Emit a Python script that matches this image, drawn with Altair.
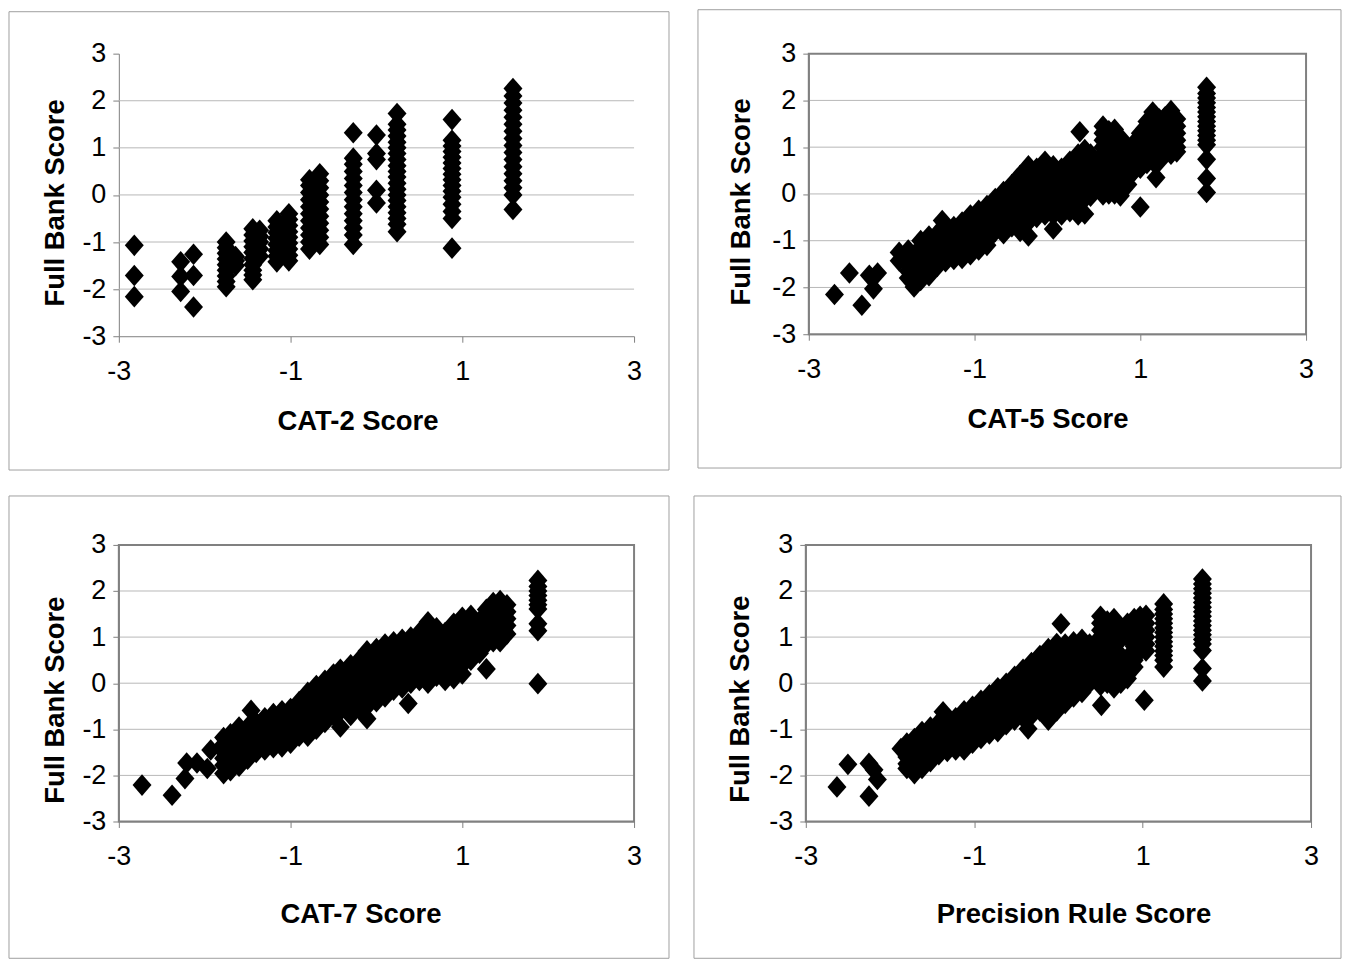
import altair as alt
import pandas as pd

FONT = "Liberation Sans"
DIAMOND = "M0,-1L0.875,0L0,1L-0.875,0Z"
GRID_VALUES = [-2, -1, 0, 1, 2]
Y_TICKS = [-3, -2, -1, 0, 1, 2, 3]
X_TICKS = [-3, -1, 1, 3]

# ---- data: (CAT score, [full bank scores]) ----
CAT2 = [
    (-2.82, [-1.07, -1.71, -2.16]),
    (-2.28, [-1.42, -1.73, -2.05]),
    (-2.13, [-1.26, -1.71, -2.38]),
    (-1.75, [-1.0, -1.12, -1.24, -1.36, -1.48, -1.6, -1.72, -1.84, -1.95]),
    (-1.64, [-1.31, -1.4, -1.5]),
    (-1.44, [-0.72, -0.85, -0.98, -1.1, -1.22, -1.35, -1.48, -1.6, -1.7, -1.8]),
    (-1.36, [-0.75, -0.88, -1.0, -1.15, -1.3]),
    (-1.16, [-0.55, -0.68, -0.8, -0.92, -1.05, -1.18, -1.3, -1.42]),
    (-1.02, [-0.4, -0.52, -0.65, -0.78, -0.9, -1.02, -1.15, -1.28, -1.4]),
    (-0.78, [0.32, 0.2, 0.05, -0.1, -0.25, -0.4, -0.55, -0.7, -0.85, -1.0, -1.15]),
    (-0.66, [0.45, 0.3, 0.15, 0.0, -0.15, -0.3, -0.45, -0.6, -0.75, -0.9, -1.05]),
    (-0.27, [1.32, 0.78, 0.65, 0.5, 0.35, 0.2, 0.05, -0.1, -0.25, -0.4, -0.55, -0.7, -0.85, -1.05]),
    (0.0, [1.27, 0.88, 0.75, 0.1, -0.17]),
    (0.24, [1.73, 1.5, 1.38, 1.25, 1.12, 1.0, 0.88, 0.75, 0.62, 0.5, 0.38, 0.25, 0.12, 0.0,
            -0.12, -0.25, -0.38, -0.5, -0.62, -0.78]),
    (0.88, [1.6, 1.16, 1.04, 0.92, 0.8, 0.68, 0.56, 0.44, 0.32, 0.2, 0.08, -0.05, -0.2, -0.35, -0.5, -1.13]),
    (1.59, [2.26, 2.1, 1.95, 1.8, 1.65, 1.5, 1.35, 1.2, 1.05, 0.9, 0.75, 0.6, 0.45, 0.3, 0.15, 0.0, -0.31]),
]

CAT5 = [
    (-2.69, [-2.15]), (-2.51, [-1.69]), (-2.36, [-2.38]), (-2.27, [-1.74]),
    (-2.17, [-1.69]), (-2.22, [-2.03]), (-1.91, [-1.25, -1.43]), (-1.39, [-0.57]),
    (-1.8, [-1.2, -1.35, -1.5, -1.65, -1.8]),
    (-1.73, [-1.3, -1.45, -1.6, -1.75, -1.9, -1.99]),
    (-1.65, [-1.0, -1.15, -1.3, -1.45, -1.6, -1.75, -1.85]),
    (-1.55, [-0.9, -1.05, -1.2, -1.35, -1.5, -1.65, -1.75]),
    (-1.45, [-0.85, -1.0, -1.15, -1.3, -1.45, -1.55]),
    (-1.35, [-0.8, -0.95, -1.1, -1.25, -1.4, -1.45]),
    (-1.25, [-0.7, -0.85, -1.0, -1.15, -1.3, -1.4]),
    (-1.15, [-0.6, -0.75, -0.9, -1.05, -1.2, -1.38]),
    (-1.05, [-0.45, -0.6, -0.75, -0.9, -1.05, -1.2, -1.3]),
    (-0.95, [-0.35, -0.5, -0.65, -0.8, -0.95, -1.1, -1.2]),
    (-0.85, [-0.25, -0.4, -0.55, -0.7, -0.85, -1.0, -1.1]),
    (-0.75, [-0.1, -0.25, -0.4, -0.55, -0.7, -0.8]),
    (-0.65, [0.05, -0.1, -0.25, -0.4, -0.55, -0.7, -0.85]),
    (-0.55, [0.2, 0.05, -0.1, -0.25, -0.4, -0.55, -0.7]),
    (-0.45, [0.4, 0.25, 0.1, -0.05, -0.2, -0.35, -0.5, -0.65, -0.8]),
    (-0.35, [0.6, 0.45, 0.3, 0.15, 0.0, -0.15, -0.3, -0.45, -0.6, -0.9]),
    (-0.25, [0.55, 0.4, 0.25, 0.1, -0.05, -0.2, -0.35, -0.5]),
    (-0.15, [0.7, 0.55, 0.4, 0.25, 0.1, -0.05, -0.2, -0.35, -0.45]),
    (-0.05, [0.6, 0.45, 0.3, 0.15, 0.0, -0.15, -0.3, -0.45, -0.75]),
    (0.05, [0.55, 0.4, 0.25, 0.1, -0.05, -0.2, -0.35, -0.45]),
    (0.15, [0.7, 0.55, 0.4, 0.25, 0.1, -0.05, -0.2, -0.38]),
    (0.25, [0.85, 0.7, 0.55, 0.4, 0.25, 0.1, -0.05, -0.2, -0.45]),
    (0.27, [1.33]),
    (0.33, [0.95, 0.8, 0.65, 0.5, 0.35, 0.2, 0.05, -0.1, -0.43]),
    (0.4, [0.85, 0.7, 0.55, 0.4, 0.25, 0.1, -0.05]),
    (0.55, [1.45, 1.3, 1.15, 1.0, 0.85, 0.7, 0.55, 0.4, 0.25, 0.1, -0.02]),
    (0.62, [1.35, 1.2, 1.05, 0.9, 0.75, 0.6, 0.45, 0.3, 0.15, 0.0]),
    (0.69, [1.38, 1.2, 1.05, 0.9, 0.75, 0.6, 0.45, 0.3, 0.15, 0.0]),
    (0.76, [1.2, 1.0, 0.8, 0.3, 0.1, -0.04]),
    (0.85, [0.95, 0.8, 0.65, 0.5, 0.35, 0.2]),
    (0.93, [1.1, 0.95, 0.8, 0.65, 0.5]),
    (1.0, [1.3, 1.15, 1.0, 0.85, 0.7, 0.55, -0.28]),
    (1.08, [1.55, 1.4, 1.25, 1.1, 0.95, 0.8, 0.65]),
    (1.15, [1.75, 1.6, 1.45, 1.3, 1.15, 1.0, 0.85, 0.7]),
    (1.19, [0.35]),
    (1.23, [1.6, 1.45, 1.3, 1.15, 1.0, 0.85, 0.7]),
    (1.3, [1.65, 1.5, 1.35, 1.2, 1.05, 0.9]),
    (1.37, [1.78, 1.6, 1.45, 1.3, 1.15, 1.0, 0.85]),
    (1.44, [1.6, 1.45, 1.3, 1.15, 1.0, 0.9]),
    (1.8, [2.28, 2.15, 2.05, 1.95, 1.85, 1.75, 1.65, 1.55, 1.45, 1.35, 1.25, 1.15, 1.05, 0.74, 0.33, 0.03]),
]

CAT7 = [
    (-2.73, [-2.21]), (-2.38, [-2.43]), (-2.23, [-2.07]), (-2.21, [-1.73]),
    (-2.09, [-1.73]), (-1.97, [-1.85]), (-1.93, [-1.45]), (-1.46, [-0.59]),
    (-1.78, [-1.18, -1.33, -1.48, -1.63, -1.78, -1.96]),
    (-1.7, [-1.1, -1.25, -1.4, -1.55, -1.7, -1.9]),
    (-1.6, [-0.95, -1.1, -1.25, -1.4, -1.55, -1.7, -1.8]),
    (-1.5, [-0.95, -1.1, -1.25, -1.4, -1.55, -1.65]),
    (-1.4, [-0.85, -1.0, -1.15, -1.3, -1.5]),
    (-1.3, [-0.75, -0.9, -1.05, -1.2, -1.35, -1.45]),
    (-1.2, [-0.66, -0.8, -0.95, -1.1, -1.25, -1.4]),
    (-1.1, [-0.6, -0.75, -0.9, -1.05, -1.2, -1.38]),
    (-1.0, [-0.55, -0.7, -0.85, -1.0, -1.15, -1.3]),
    (-0.9, [-0.4, -0.55, -0.7, -0.85, -1.0, -1.15]),
    (-0.8, [-0.2, -0.35, -0.5, -0.65, -0.8, -0.95, -1.15]),
    (-0.7, [-0.05, -0.2, -0.35, -0.5, -0.65, -0.8, -1.0]),
    (-0.6, [0.06, -0.1, -0.25, -0.4, -0.55, -0.7, -0.85]),
    (-0.5, [0.2, 0.05, -0.1, -0.25, -0.4, -0.55, -0.7]),
    (-0.42, [0.3, 0.15, 0.0, -0.15, -0.3, -0.45, -0.6, -0.95]),
    (-0.3, [0.4, 0.25, 0.1, -0.05, -0.2, -0.35, -0.5, -0.7]),
    (-0.2, [0.5, 0.35, 0.2, 0.05, -0.1, -0.25, -0.4, -0.55]),
    (-0.11, [0.7, 0.55, 0.4, 0.25, 0.1, -0.05, -0.2, -0.35, -0.5, -0.77]),
    (0.0, [0.75, 0.6, 0.45, 0.3, 0.15, 0.0, -0.15, -0.3, -0.4]),
    (0.1, [0.85, 0.7, 0.55, 0.4, 0.25, 0.1, -0.05, -0.2, -0.3]),
    (0.2, [0.9, 0.75, 0.6, 0.45, 0.3, 0.15, 0.0, -0.15]),
    (0.3, [0.95, 0.8, 0.65, 0.5, 0.35, 0.2, 0.05, -0.1]),
    (0.37, [-0.44]),
    (0.4, [1.0, 0.85, 0.7, 0.55, 0.4, 0.25, 0.1, 0.0]),
    (0.5, [1.1, 0.95, 0.8, 0.65, 0.5, 0.35, 0.2, 0.06]),
    (0.6, [1.33, 1.15, 1.0, 0.85, 0.7, 0.55, 0.4, 0.25, 0.1, 0.0]),
    (0.7, [1.2, 1.05, 0.9, 0.75, 0.6, 0.45, 0.3, 0.15]),
    (0.8, [1.1, 0.95, 0.8, 0.65, 0.5, 0.35, 0.2, 0.06]),
    (0.9, [1.3, 1.15, 1.0, 0.85, 0.7, 0.55, 0.4, 0.25, 0.1]),
    (1.0, [1.43, 1.3, 1.15, 1.0, 0.85, 0.7, 0.55, 0.4, 0.2]),
    (1.1, [1.47, 1.3, 1.15, 1.0, 0.85, 0.7, 0.5]),
    (1.2, [1.35, 1.2, 1.05, 0.9, 0.75, 0.65]),
    (1.28, [1.6, 1.45, 1.3, 1.15, 1.0, 0.85, 0.31]),
    (1.36, [1.75, 1.6, 1.45, 1.3, 1.15, 1.0, 0.9]),
    (1.44, [1.79, 1.65, 1.5, 1.35, 1.2, 1.05, 0.9]),
    (1.52, [1.7, 1.55, 1.4, 1.25, 1.07]),
    (1.88, [2.23, 2.1, 2.0, 1.9, 1.8, 1.7, 1.61, 1.29, 1.14, -0.01]),
]

PREC = [
    (-2.63, [-2.25]), (-2.50, [-1.76]), (-2.25, [-1.74, -2.45]), (-2.19, [-1.88]),
    (-2.15, [-2.09]), (-1.37, [-0.62]), (-0.36, [-0.99]), (0.03, [1.29]),
    (0.51, [-0.48]), (1.02, [-0.37]),
    (-1.87, [-1.42]),
    (-1.8, [-1.3, -1.45, -1.6, -1.75, -1.85]),
    (-1.71, [-1.2, -1.35, -1.5, -1.65, -1.8, -1.96]),
    (-1.62, [-1.05, -1.2, -1.35, -1.5, -1.65, -1.85]),
    (-1.52, [-0.95, -1.1, -1.25, -1.4, -1.55, -1.7]),
    (-1.42, [-0.85, -1.0, -1.15, -1.3, -1.45, -1.55]),
    (-1.32, [-0.8, -0.95, -1.1, -1.25, -1.4, -1.48]),
    (-1.22, [-0.75, -0.9, -1.05, -1.2, -1.35, -1.45]),
    (-1.12, [-0.6, -0.75, -0.9, -1.05, -1.2, -1.35, -1.45]),
    (-1.02, [-0.5, -0.65, -0.8, -0.95, -1.1, -1.3]),
    (-0.92, [-0.37, -0.5, -0.65, -0.8, -0.95, -1.1, -1.2]),
    (-0.82, [-0.25, -0.4, -0.55, -0.7, -0.85, -1.0, -1.1]),
    (-0.72, [-0.1, -0.25, -0.4, -0.55, -0.7, -0.85, -1.05]),
    (-0.62, [0.0, -0.15, -0.3, -0.45, -0.6, -0.75, -0.9]),
    (-0.52, [0.15, 0.0, -0.15, -0.3, -0.45, -0.6, -0.8]),
    (-0.42, [0.3, 0.15, 0.0, -0.15, -0.3, -0.45, -0.6, -0.75]),
    (-0.32, [0.45, 0.3, 0.15, 0.0, -0.15, -0.3, -0.45, -0.7]),
    (-0.22, [0.6, 0.45, 0.3, 0.15, 0.0, -0.15, -0.3, -0.45, -0.6]),
    (-0.12, [0.75, 0.6, 0.45, 0.3, 0.15, 0.0, -0.15, -0.3, -0.45, -0.6, -0.8]),
    (-0.02, [0.86, 0.7, 0.55, 0.4, 0.25, 0.1, -0.05, -0.2, -0.35, -0.5, -0.6]),
    (0.08, [0.85, 0.7, 0.55, 0.4, 0.25, 0.1, -0.05, -0.2, -0.35, -0.44]),
    (0.18, [0.9, 0.75, 0.6, 0.45, 0.3, 0.15, 0.0, -0.15, -0.3]),
    (0.28, [0.95, 0.8, 0.65, 0.5, 0.35, 0.2, 0.05, -0.1, -0.2]),
    (0.37, [0.85, 0.7, 0.55, 0.4, 0.25, 0.1, 0.0]),
    (0.5, [1.45, 1.3, 1.15, 1.0, 0.85, 0.7, 0.55, 0.4, 0.25, 0.1, -0.05]),
    (0.58, [1.35, 1.2, 1.05, 0.9, 0.75, 0.6, 0.45, 0.3, 0.15, 0.0]),
    (0.66, [1.4, 1.25, 1.1, 0.95, 0.8, 0.65, 0.5, 0.35, 0.2, 0.05, -0.1]),
    (0.74, [1.1, 0.95, 0.6, 0.45, 0.3, 0.15, 0.0]),
    (0.82, [1.3, 1.15, 1.0, 0.55, 0.4, 0.25, 0.1]),
    (0.9, [1.4, 1.25, 1.1, 0.95, 0.8, 0.65, 0.5, 0.35]),
    (0.97, [1.45, 1.3, 1.15, 1.0, 0.85, 0.7]),
    (1.04, [1.47, 1.3, 1.15, 1.0, 0.85, 0.7]),
    (1.25, [1.72, 1.6, 1.5, 1.4, 1.3, 1.2, 1.1, 1.0, 0.9, 0.8, 0.7, 0.6, 0.5, 0.35]),
    (1.71, [2.26, 2.15, 2.05, 1.95, 1.85, 1.75, 1.65, 1.55, 1.45, 1.35, 1.25, 1.15, 1.05,
            0.95, 0.85, 0.71, 0.32, 0.05]),
]

GRIDC = "#b8b8b8"
AXC = "#808080"


def panel(cols, xtitle, w, h, frame, border, xt, yt):
    df = pd.DataFrame([{"x": x, "y": y} for x, ys in cols for y in ys])
    sx = alt.Scale(domain=[-3, 3], nice=False, zero=False)
    sy = alt.Scale(domain=[-3, 3], nice=False, zero=False)
    Y = alt.Y(
        "y:Q", scale=sy,
        axis=alt.Axis(
            values=Y_TICKS, grid=False, domainColor=AXC, tickColor=AXC, tickSize=6,
            labelPadding=7, labelFont=FONT, labelFontSize=27, labelColor="black",
            labelExpr="'' + datum.value", labelOverlap=False,
            title="Full Bank Score", titleFont=FONT, titleFontSize=27.5,
            titleFontWeight="bold", titleColor="black", titleAngle=270,
            titleX=yt[0], titleY=yt[1], titleBaseline="middle", titleAlign="center",
        ),
    )
    X = alt.X(
        "x:Q", scale=sx,
        axis=alt.Axis(
            values=X_TICKS, grid=False, domainColor=AXC, tickColor=AXC, tickSize=6,
            labelPadding=16, labelFont=FONT, labelFontSize=27, labelColor="black",
            labelExpr="'' + datum.value", labelFlush=False, labelOverlap=False,
            title=xtitle, titleFont=FONT, titleFontSize=27.5, titleFontWeight="bold",
            titleColor="black", titleX=xt[0], titleY=xt[1], titleBaseline="middle",
            titleAlign="center",
        ),
    )
    grid = alt.Chart(pd.DataFrame({"y": GRID_VALUES})).mark_rule(
        color=GRIDC, strokeWidth=1).encode(y=Y)
    pts = alt.Chart(df).mark_point(
        shape=DIAMOND, filled=True, size=470, color="black", opacity=1, strokeWidth=0
    ).encode(x=X, y=Y)
    one = pd.DataFrame({"a": [0]})
    layers = [grid, pts]
    if border:
        layers.append(alt.Chart(one).mark_rect(
            filled=False, stroke=AXC, strokeWidth=2).encode(
            x=alt.value(0), x2=alt.value(w), y=alt.value(0), y2=alt.value(h)))
    layers.append(alt.Chart(one).mark_rect(
        filled=False, stroke="#a0a0a0", strokeWidth=1).encode(
        x=alt.value(frame[0]), x2=alt.value(frame[2]),
        y=alt.value(frame[1]), y2=alt.value(frame[3])))
    return alt.layer(*layers).properties(width=w, height=h)


p1 = panel(CAT2, "CAT-2 Score", 516, 283, (-110, -42, 551, 417), False, (239, 85), (-63, 149))
p2 = panel(CAT5, "CAT-5 Score", 498, 281, (-111, -44, 533, 415), True, (239, 85), (-67, 148))
p3 = panel(CAT7, "CAT-7 Score", 516, 277, (-110, -49, 551, 414), True, (242, 93), (-63, 155))
p4 = panel(PREC, "Precision Rule Score", 506, 277, (-112, -49, 536, 414), True, (268, 93), (-65, 154))

row1 = alt.hconcat(p1, p2, spacing=27)
row2 = alt.hconcat(p3, p4, spacing=23)
chart = alt.vconcat(row1, row2, spacing=24).properties(
    padding=0, background="white"
).configure_view(stroke="transparent")

chart.save("out.html", embed_options={"renderer": "svg", "actions": False})
